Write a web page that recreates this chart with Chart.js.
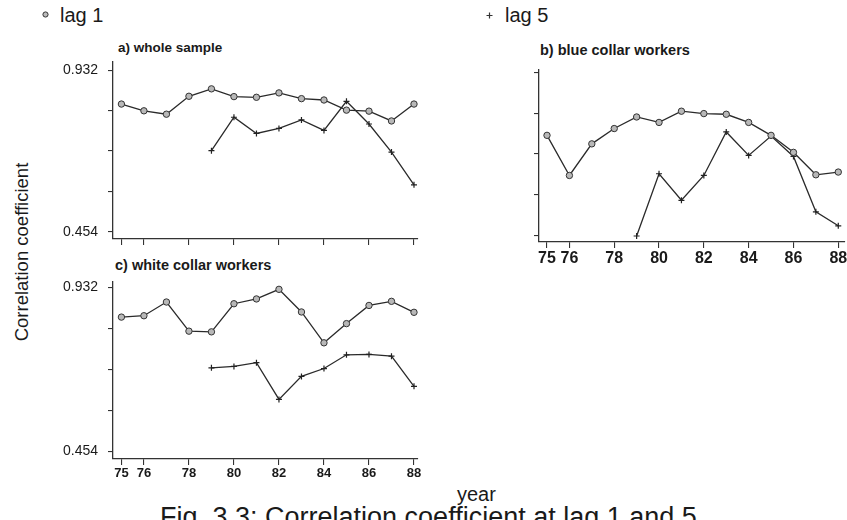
<!DOCTYPE html>
<html>
<head>
<meta charset="utf-8">
<script src="https://cdn.jsdelivr.net/npm/chart.js@4/dist/chart.umd.min.js"></script>
<style>
  html, body { margin: 0; padding: 0; background: #fff; }
  body { width: 847px; height: 520px; overflow: hidden; position: relative;
         font-family: "Liberation Sans", Arial, Helvetica, sans-serif; color: #1a1a1a; }
  .panel { position: absolute; }
  .txt { position: absolute; white-space: nowrap; line-height: 1; }
  .ptitle { font-weight: bold; font-size: 14.5px; }
</style>
</head>
<body>

<!-- legend -->
<svg class="txt" style="left:41px;top:10px" width="10" height="10">
  <circle cx="4.5" cy="4.5" r="2.6" fill="#bbb" stroke="#333" stroke-width="1"/>
</svg>
<div class="txt" style="left:60px;top:5px;font-size:20px;">lag 1</div>
<svg class="txt" style="left:485px;top:11px" width="10" height="10">
  <path d="M4.5 1.5 V7.5 M1.5 4.5 H7.5" stroke="#333" stroke-width="1.2"/>
</svg>
<div class="txt" style="left:505px;top:5px;font-size:20px;">lag 5</div>

<!-- panel titles -->
<div class="txt ptitle" style="left:118px;top:41px;font-size:13.5px;">a) whole sample</div>
<div class="txt ptitle" style="left:540px;top:43px;">b) blue collar workers</div>
<div class="txt ptitle" style="left:115px;top:258px;">c) white collar workers</div>

<!-- axis titles and caption -->
<div class="txt" style="left:22px;top:252px;font-size:18.5px;transform:translate(-50%,-50%) rotate(-90deg);">Correlation coefficient</div>
<div class="txt" style="left:457px;top:484px;font-size:20px;">year</div>
<div class="txt" style="left:160px;top:504px;font-size:27px;">Fig. 3.3: Correlation coefficient at lag 1 and 5</div>

<div class="panel" id="pa"><canvas id="ca"></canvas></div>
<div class="panel" id="pb"><canvas id="cb"></canvas></div>
<div class="panel" id="pc"><canvas id="cc"></canvas></div>

<script>
// survey years (19xx)
const years = [75, 76, 77, 78, 79, 80, 81, 82, 83, 84, 85, 86, 87, 88];
const xTickYears = [75, 76, 78, 80, 82, 84, 86, 88];
const yTickValues = [0.454, 0.5735, 0.693, 0.8125, 0.932];
const yTickLabels = ['0.454', '', '', '', '0.932'];

// a) whole sample
const wholeLag1 = [0.832, 0.812, 0.802, 0.855, 0.877, 0.854, 0.852, 0.865, 0.848, 0.844, 0.814, 0.811, 0.782, 0.832];
const wholeLag5 = [null, null, null, null, 0.694, 0.793, 0.745, 0.760, 0.785, 0.754, 0.840, 0.773, 0.690, 0.593];
// b) blue collar workers
const blueLag1 = [0.748, 0.630, 0.723, 0.768, 0.802, 0.786, 0.819, 0.812, 0.810, 0.786, 0.748, 0.698, 0.632, 0.640];
const blueLag5 = [null, null, null, null, 0.452, 0.635, 0.557, 0.630, 0.758, 0.689, 0.746, 0.686, 0.523, 0.482];
// c) white collar workers
const whiteLag1 = [0.846, 0.850, 0.890, 0.805, 0.803, 0.885, 0.899, 0.927, 0.861, 0.771, 0.827, 0.880, 0.892, 0.860];
const whiteLag5 = [null, null, null, null, 0.698, 0.702, 0.713, 0.606, 0.673, 0.696, 0.736, 0.737, 0.732, 0.644];

const FONT = '"Liberation Sans", Arial, Helvetica, sans-serif';
const INK = '#2a2a2a';
const Y_FONT = 14, Y_PAD = 10;
// vertical room Chart.js keeps for the end labels of a y axis
const Y_RESERVE = Y_FONT * 1.2 / 2 + Y_PAD;

function pts(vals) {
  return years.map((yr, i) => ({ x: yr, y: vals[i] }));
}

function lag1Set(vals) {
  return {
    label: 'lag 1', data: pts(vals), borderColor: INK, borderWidth: 1.3,
    pointStyle: 'circle', pointRadius: 3.2, pointBackgroundColor: '#b8b8b8',
    pointBorderColor: '#333', pointBorderWidth: 1, clip: false, tension: 0
  };
}
function lag5Set(vals) {
  return {
    label: 'lag 5', data: pts(vals), borderColor: INK, borderWidth: 1.3,
    pointStyle: 'cross', pointRadius: 3, pointBorderColor: '#222',
    pointBorderWidth: 1.2, clip: false, tension: 0
  };
}

// box: plot-area edges in page pixels; yw/xh: reserved axis sizes
function panel(divId, canvasId, box, xr, yr, opts) {
  const padTop = 20, padRight = 14;
  const bottom = Math.max(box.xh, Y_RESERVE);
  const w = box.yw + (box.R - box.L) + padRight;
  const h = padTop + (box.B - box.T) + bottom;
  const div = document.getElementById(divId);
  div.style.left = (box.L - box.yw) + 'px';
  div.style.top = (box.T - padTop) + 'px';
  div.style.width = w + 'px';
  div.style.height = h + 'px';

  new Chart(document.getElementById(canvasId), {
    type: 'line',
    data: { datasets: [lag1Set(opts.lag1), lag5Set(opts.lag5)] },
    options: {
      responsive: true, maintainAspectRatio: false, animation: false,
      devicePixelRatio: 1,
      layout: { padding: { top: padTop, right: padRight, left: 0, bottom: 0 } },
      plugins: { legend: { display: false }, tooltip: { enabled: false } },
      scales: {
        x: {
          type: 'linear', min: xr[0], max: xr[1],
          afterBuildTicks: s => { s.ticks = xTickYears.map(v => ({ value: v })); },
          afterFit: s => { s.height = box.xh; },
          border: { display: true, color: '#333', width: 1.3 },
          grid: { drawOnChartArea: false, drawTicks: true, tickLength: 6, color: '#333', lineWidth: 1.1 },
          ticks: {
            display: opts.xLabels, autoSkip: false, maxRotation: 0, padding: 1,
            color: '#1a1a1a', font: { family: FONT, size: opts.xFont, weight: 'bold' },
            callback: v => String(v)
          }
        },
        y: {
          type: 'linear', min: yr[0], max: yr[1],
          afterBuildTicks: s => { s.ticks = yTickValues.map(v => ({ value: v })); },
          afterFit: s => { s.width = box.yw; },
          border: { display: true, color: '#333', width: 1.3 },
          grid: { drawOnChartArea: false, drawTicks: true, tickLength: 5, color: '#333', lineWidth: 1.1 },
          ticks: {
            display: true, autoSkip: false, padding: Y_PAD,
            color: '#1a1a1a', font: { family: FONT, size: Y_FONT, lineHeight: 1.2 },
            callback: (v, i) => opts.yLabels ? yTickLabels[i] : ''
          }
        }
      }
    }
  });
}

panel('pa', 'ca', { L: 113, T: 62, R: 418, B: 239, yw: 60, xh: 8 },
      [74.626, 88.178], [0.4328, 0.9564],
      { lag1: wholeLag1, lag5: wholeLag5, xLabels: false, yLabels: true, xFont: 13 });

panel('pb', 'cb', { L: 539, T: 70, R: 845, B: 242, yw: 20, xh: 28 },
      [74.643, 88.3], [0.4343, 0.9402],
      { lag1: blueLag1, lag5: blueLag5, xLabels: true, yLabels: false, xFont: 16 });

panel('pc', 'cc', { L: 113, T: 282, R: 418, B: 459, yw: 60, xh: 24 },
      [74.626, 88.178], [0.4321, 0.9484],
      { lag1: whiteLag1, lag5: whiteLag5, xLabels: true, yLabels: true, xFont: 13 });
</script>
</body>
</html>
